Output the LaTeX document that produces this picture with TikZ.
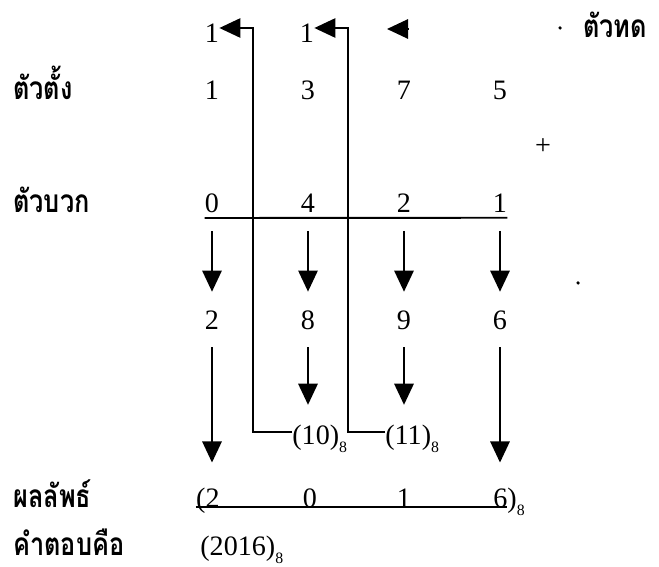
\documentclass[tikz,border=0pt]{standalone}
\usepackage{fontspec}
\setmainfont{Liberation Serif}
\newfontfamily\thaifont[Script=Thai, FakeStretch=0.8]{Loma}
\usepackage{tikz}
\usetikzlibrary{arrows.meta}
\newcommand{\baseeight}{\raisebox{-0.3em}{\fontsize{9}{9}\selectfont 8}}

\begin{document}
\begin{tikzpicture}[x=0.02cm, y=-0.02cm,
    digit/.style={anchor=base, inner sep=0pt, font=\fontsize{16}{18}\selectfont},
    rowname/.style={anchor=base west, inner sep=0pt, font=\thaifont\bfseries\fontsize{18}{21}\selectfont},
    flow/.style={line width=1.1pt, -{Triangle[length=12pt, width=11pt]}},
    rule/.style={line width=1.1pt}]
  \useasboundingbox (0,0) rectangle (659,567);
  % row names
  \node[rowname] (nmtop) at (13,100) {ตัวตั้ง};
  \node[rowname] (nmadd) at (13,213) {ตัวบวก};
  \node[rowname] (nmsum) at (13,507) {ผลลัพธ์};
  \node[rowname] (nmans) at (13,555) {คำตอบคือ};
  \node[rowname] (nmcar) at (583,38) {ตัวทด};
  % digits of the two numbers and their column sums
  \foreach[count=\i from 1] \xx/\aa/\bb/\cc in {212/1/0/2, 308/3/4/8, 404/7/2/9, 500/5/1/6} {
    \node[digit] (a\i) at (\xx,100) {\aa};
    \node[digit] (b\i) at (\xx,213) {\bb};
    \node[digit] (c\i) at (\xx,330) {\cc};
    \draw[flow, shorten <=10pt, shorten >=11pt] (b\i.south) -- (c\i.north);
  }
  \node[digit] (plus) at (543,155) {+};
  \draw[rule] ([yshift=-2.5pt]b1.south west) -- ([yshift=-2.5pt]b4.south east);
  % carries
  \node[digit] (k1) at (212,43) {1};
  \node[digit] (k2) at (307,43) {1};
  \coordinate (k3) at (387,29);
  \coordinate (k3tail) at (408,29);
  \draw[flow] (k3tail) -- (k3);
  \node[digit, anchor=base west] (s1) at (292,444) {(10)\baseeight};
  \node[digit, anchor=base west] (s2) at (385,444) {(11)\baseeight};
  \draw[flow, shorten <=9.5pt, shorten >=11pt] (c2.south) -- (c2 |- s1.north);
  \draw[flow, shorten <=9.5pt, shorten >=11pt] (c3.south) -- (c3 |- s2.north);
  \coordinate (t1) at (253,28);
  \coordinate (t2) at (348,28);
  \draw[flow] ([yshift=3.5pt]s1.west) -| (t1) -- (t1 -| k1.east);
  \draw[flow] ([yshift=3.5pt]s2.west) -| (t2) -- (t2 -| k2.east);
  % result
  \node[digit, anchor=base east] (r1) at (220,507) {(2};
  \node[digit] (r2) at (310,507) {0};
  \node[digit] (r3) at (404,507) {1};
  \node[digit, anchor=base west] (r4) at (493,507) {6)\baseeight};
  \draw[rule] (r1.base west) -- ([xshift=8pt]r4.base west);
  \draw[flow, shorten <=9.5pt, shorten >=14pt] (c1.south) -- (c1 |- r1.north);
  \draw[flow, shorten <=9.5pt, shorten >=14pt] (c4.south) -- (c4 |- r4.north);
  \node[digit, anchor=base west] (ans) at (200,555) {(2016)\baseeight};
  % stray dots
  \fill (560,28) circle (1pt);
  \fill (578,283) circle (1pt);
\end{tikzpicture}
\end{document}
